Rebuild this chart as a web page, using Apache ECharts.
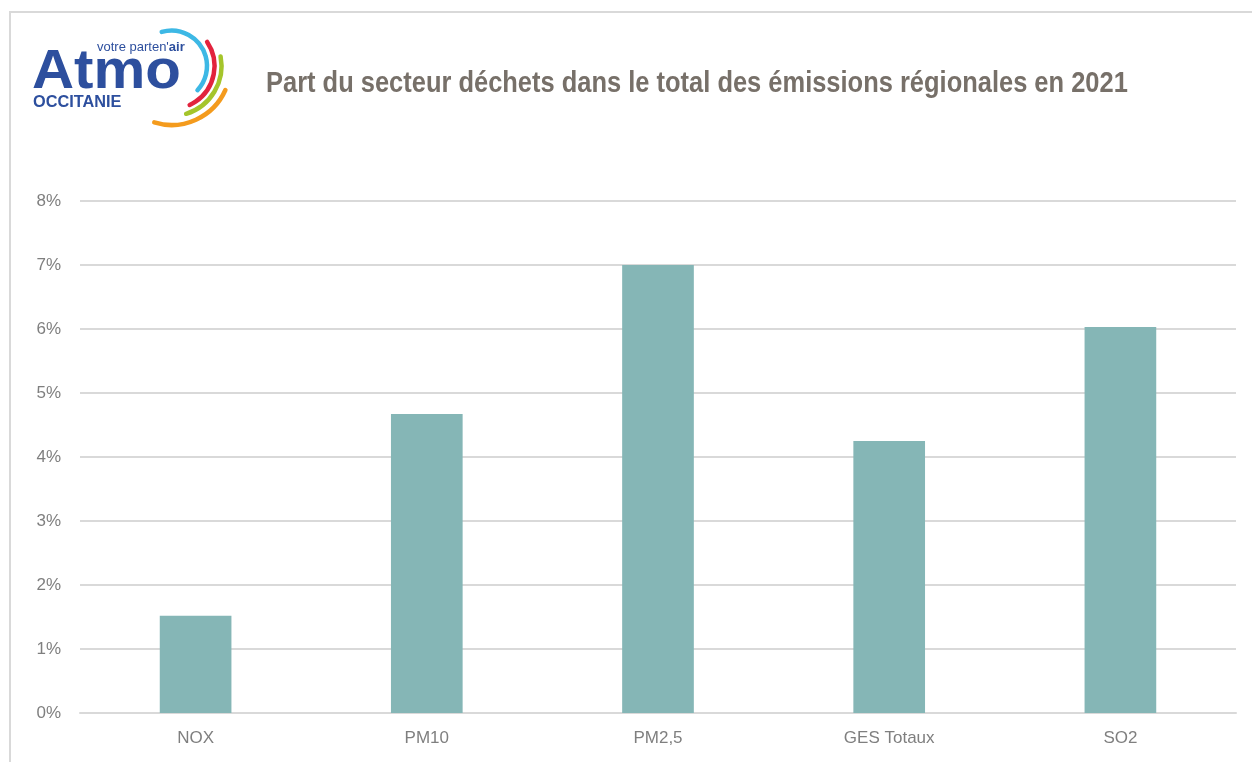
<!DOCTYPE html>
<html>
<head>
<meta charset="utf-8">
<script src="https://cdn.jsdelivr.net/npm/echarts@6/dist/echarts.min.js"></script>
<style>
  html, body { margin: 0; padding: 0; background: #fff; }
  #chart { width: 1252px; height: 762px; }
</style>
</head>
<body>
<div id="chart"></div>
<script>
// données (part en %)
const categories = ["NOX", "PM10", "PM2,5", "GES Totaux", "SO2"];
const partDechets = [1.52, 4.67, 7.0, 4.25, 6.03];
const yTicks = [0, 1, 2, 3, 4, 5, 6, 7, 8];

const sans = "'Liberation Sans', Arial, sans-serif";
const grey = "#7f7f7f";

// arcs du logo : cx, cy, r, angle début, angle fin (degrés), couleur
const logoArcs = [
  [171.5, 66, 35.5, -106, 43, "#3db8e5"],
  [171.5, 66, 43, -34, 65, "#e2233d"],
  [171.5, 66, 50, -11, 73, "#a5c52b"],
  [171.5, 66, 59, 24, 107, "#f49b1d"]
];
const rad = d => d * Math.PI / 180;

const chart = echarts.init(document.getElementById("chart"));
const option = {
  animation: false,
  backgroundColor: "#fff",
  grid: {
    left: 80,
    right: 16,
    top: 201,
    bottom: 49,
    containLabel: false
  },
  xAxis: {
    type: "category",
    data: categories,
    axisLine: { lineStyle: { color: "#d9d9d9", width: 2 } },
    axisTick: { show: false },
    axisLabel: {
      color: grey,
      fontFamily: sans,
      fontSize: 17,
      margin: 17
    }
  },
  yAxis: {
    type: "value",
    min: yTicks[0],
    max: yTicks[yTicks.length - 1],
    interval: 1,
    axisLine: { show: false },
    axisTick: { show: false },
    axisLabel: {
      color: grey,
      fontFamily: sans,
      fontSize: 17,
      margin: 19,
      formatter: "{value}%"
    },
    splitLine: { lineStyle: { color: "#d9d9d9", width: 2 } }
  },
  series: [
    {
      type: "bar",
      data: partDechets,
      barWidth: "31%",
      itemStyle: { color: "#85b6b6" }
    }
  ],
  graphic: [
    {
      type: "rect",
      shape: { x: 10, y: 12, width: 1300, height: 800 },
      style: { fill: "none", stroke: "#d9d9d9", lineWidth: 2 },
      silent: true
    },
    {
      // titre en police étroite simulée
      type: "text",
      x: 266,
      y: 69,
      scaleX: 0.878,
      style: {
        text: "Part du secteur déchets dans le total des émissions régionales en 2021",
        fill: "#777069",
        font: "bold 29px " + sans,
        verticalAlign: "top"
      }
    },
    {
      type: "text",
      x: 32,
      y: 45,
      scaleX: 1.06,
      style: {
        text: "Atmo",
        fill: "#2d4f9e",
        font: "bold 55px " + sans,
        verticalAlign: "top"
      }
    },
    {
      type: "text",
      left: 97,
      top: 41,
      style: {
        rich: {
          a: { fill: "#2d4f9e", font: "13px " + sans },
          b: { fill: "#2d4f9e", font: "bold 13px " + sans }
        },
        text: "{a|votre parten'}{b|air}"
      }
    },
    {
      type: "text",
      left: 33,
      top: 95,
      style: {
        text: "OCCITANIE",
        fill: "#2d4f9e",
        font: "bold 16.3px " + sans
      }
    }
  ].concat(logoArcs.map(a => ({
    type: "arc",
    shape: { cx: a[0], cy: a[1], r: a[2], startAngle: rad(a[3]), endAngle: rad(a[4]), clockwise: true },
    style: { fill: "none", stroke: a[5], lineWidth: 4.5, lineCap: "round" },
    silent: true
  })))
};
chart.setOption(option);
window.addEventListener("resize", function () {
  chart.resize();
});
</script>
</body>
</html>
